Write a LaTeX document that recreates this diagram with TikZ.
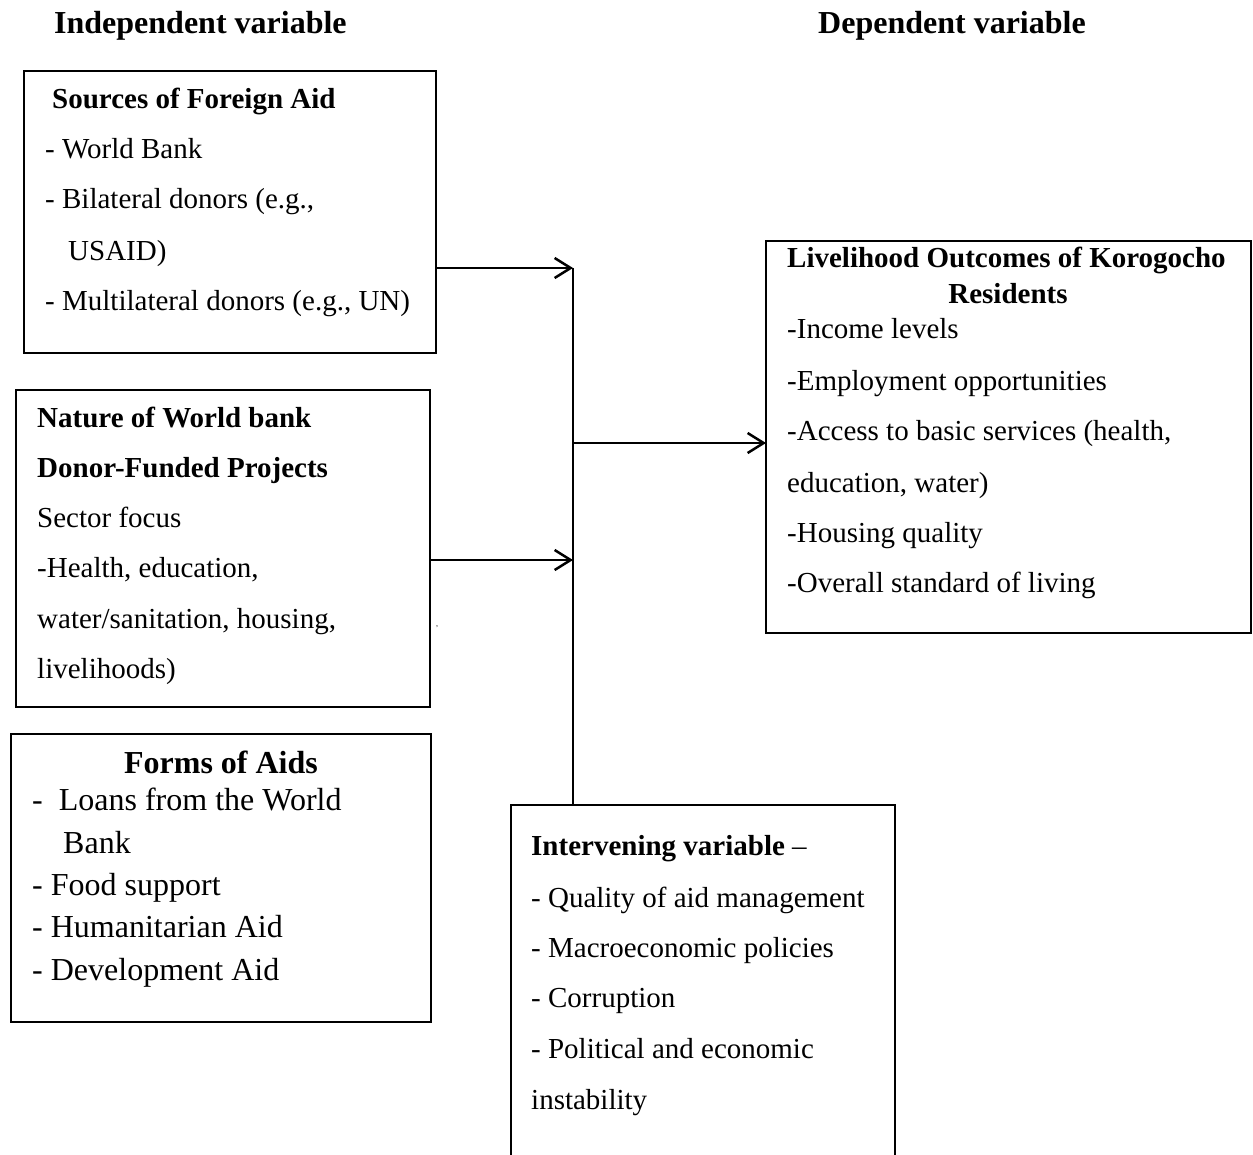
\documentclass[tikz,border=0pt]{standalone}
\usepackage{fontspec}
\setmainfont{Liberation Serif}
\usetikzlibrary{arrows.meta}
\begin{document}
\begin{tikzpicture}[x=1pt,y=-1pt,
  box/.style={draw, line width=2pt, inner sep=0pt, outer sep=0pt, anchor=north west},
  txt/.style={inner sep=0pt, anchor=base west, font=\fontsize{29}{29}\selectfont},
  big/.style={inner sep=0pt, anchor=base west, font=\fontsize{32}{32}\selectfont},
  hdr/.style={inner sep=0pt, anchor=base west, font=\fontsize{32}{32}\selectfont\bfseries},
  conn/.style={line width=2.5pt},
  arr/.style={line width=2.5pt, -{Straight Barb[length=16pt,width=20pt]}}]
\useasboundingbox (0,0) rectangle (1253,1154);
\clip (0,0) rectangle (1253,1154);

% headers
\node[hdr] (hind) at (54,33) {Independent variable};
\node[hdr] (hdep) at (818,33) {Dependent variable};

% boxes
\node[box, minimum width=412pt, minimum height=282pt] (src) at (24,71) {};
\node[box, minimum width=414pt, minimum height=317pt] (nat) at (16,390) {};
\node[box, minimum width=420pt, minimum height=288pt] (frm) at (11,734) {};
\node[box, minimum width=485pt, minimum height=392pt] (out) at (766,241) {};
\node[box, minimum width=384pt, minimum height=420pt] (int) at (511,805) {};

% box 1 text
\node[txt, font=\fontsize{29}{29}\selectfont\bfseries] (s1) at (52,108) {Sources of Foreign Aid};
\node[txt] (s2) at (45,158) {- World Bank};
\node[txt] (s3) at (45,208) {- Bilateral donors (e.g.,};
\node[txt] (s4) at (68,260) {USAID)};
\node[txt] (s5) at (45,310) {- Multilateral donors (e.g., UN)};

% box 2 text
\node[txt, font=\fontsize{29}{29}\selectfont\bfseries] (n1) at (37,427) {Nature of World bank};
\node[txt, font=\fontsize{29}{29}\selectfont\bfseries] (n2) at (37,477) {Donor-Funded Projects};
\node[txt] (n3) at (37,527) {Sector focus};
\node[txt] (n4) at (37,577) {-Health, education,};
\node[txt] (n5) at (37,628) {water/sanitation, housing,};
\node[txt] (n6) at (37,678) {livelihoods)};
\node[inner sep=0pt, anchor=base, font=\fontsize{8}{8}\selectfont] (stray) at (437,626) {,};

% box 3 text
\node[big, anchor=base, font=\fontsize{32}{32}\selectfont\bfseries] (f1) at (221,773) {Forms of Aids};
\node[big] (f2) at (32,810) {-\ \ Loans from the World};
\node[big] (f3) at (63,853) {Bank};
\node[big] (f4) at (32,895) {- Food support};
\node[big] (f5) at (32,937) {- Humanitarian Aid};
\node[big] (f6) at (32,980) {- Development Aid};

% box 4 text
\node[txt, font=\fontsize{29}{29}\selectfont\bfseries] (o1) at (787,267) {Livelihood Outcomes of Korogocho};
\node[txt, anchor=base, font=\fontsize{29}{29}\selectfont\bfseries] (o2) at (1008,303) {Residents};
\node[txt] (o3) at (787,338) {-Income levels};
\node[txt] (o4) at (787,390) {-Employment opportunities};
\node[txt] (o5) at (787,440) {-Access to basic services (health,};
\node[txt] (o6) at (787,492) {education, water)};
\node[txt] (o7) at (787,542) {-Housing quality};
\node[txt] (o8) at (787,592) {-Overall standard of living};

% box 5 text
\node[txt] (i1) at (531,855) {\textbf{Intervening variable} --};
\node[txt] (i2) at (531,907) {- Quality of aid management};
\node[txt] (i3) at (531,957) {- Macroeconomic policies};
\node[txt] (i4) at (531,1007) {- Corruption};
\node[txt] (i5) at (531,1058) {- Political and economic};
\node[txt] (i6) at (531,1109) {instability};

% connectors
\coordinate (j1) at (573,268);
\coordinate (j2) at (573,560);
\coordinate (j3) at (573,443);
\draw[arr] (src.east |- j1) -- (j1);
\draw[arr] (nat.east |- j2) -- (j2);
\draw[conn] (j1) -- (int.north -| j1);
\draw[arr] (j3) -- (out.west |- j3);
\end{tikzpicture}
\end{document}
